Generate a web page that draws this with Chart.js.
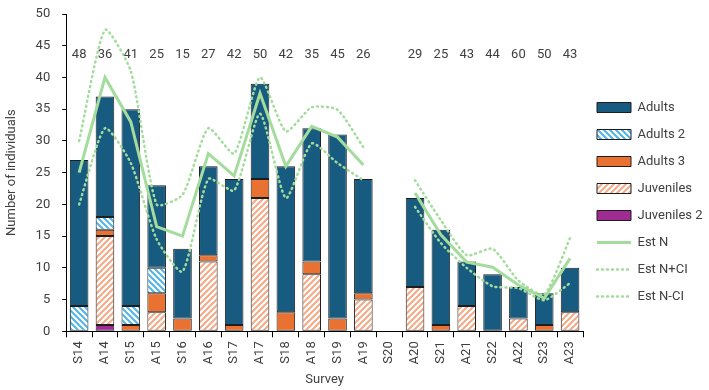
<!DOCTYPE html>
<html>
<head>
<meta charset="utf-8">
<script src="https://cdn.jsdelivr.net/npm/chart.js@4.4.1/dist/chart.umd.min.js"></script>
<style>
  html, body { margin: 0; padding: 0; background: #fff; }
  #wrap { width: 709px; height: 390px; }
</style>
</head>
<body>
<div id="wrap"><canvas id="surveyChart"></canvas></div>
<script>
// survey codes (S = spring, A = autumn)
var surveys = ['S14', 'A14', 'S15', 'A15', 'S16', 'A16', 'S17', 'A17', 'S18', 'A18',
               'S19', 'A19', 'S20', 'A20', 'S21', 'A21', 'S22', 'A22', 'S23', 'A23'];

// counts per group (stacked bars)
var adults     = [23, 19, 31, 13, 11, 14, 23, 15, 23, 21, 29, 18, null, 14, 15, 7, 9, 5, 5, 7];
var adults2    = [4, 2, 3, 4, null, null, null, null, null, null, null, null, null, null, null, null, null, null, null, null];
var adults3    = [null, 1, 1, 3, 2, 1, 1, 3, 3, 2, 2, 1, null, null, 1, null, null, null, 1, null];
var juveniles  = [null, 14, null, 3, null, 11, null, 21, null, 9, null, 5, null, 7, null, 4, null, 2, null, 3];
var juveniles2 = [null, 1, null, null, null, null, null, null, null, null, null, null, null, null, null, null, null, null, null, null];

// population estimate and its confidence limits
var estN      = [25, 40, 33, 16.5, 15, 28, 24.5, 37.5, 26, 32.3, 30.6, 26.2, null, 21.8, 15.2, 10.9, 10.1, 7.3, 5.2, 11.5];
var estNUpper = [30, 47.5, 41, 20, 21.5, 32, 28, 40, 31.5, 35.3, 34.9, 29, null, 23.8, 17.5, 12, 13, 8, 5.8, 14.7];
var estNLower = [20, 32, 26.5, 14.5, 9.4, 24, 22.2, 34.3, 21, 29.6, 26.5, 23.8, null, 19.6, 13.9, 10, 7.1, 6.8, 4.9, 7.6];

// numbers printed along the top of the plot
var sampleSizes = ['48', '36', '41', '25', '15', '27', '42', '50', '42', '35',
                   '45', '26', null, '29', '25', '43', '44', '60', '50', '43'];
var labelLevel = 43.5;

var canvas = document.getElementById('surveyChart');
var ctx = canvas.getContext('2d');

// diagonal hatch fills like the Excel pattern fills
function hatch(color, slash) {
  var s = 6;
  var tile = document.createElement('canvas');
  tile.width = s; tile.height = s;
  var g = tile.getContext('2d');
  g.fillStyle = '#ffffff';
  g.fillRect(0, 0, s, s);
  g.strokeStyle = color;
  g.lineWidth = 2;
  g.beginPath();
  if (slash) {
    g.moveTo(-1, s + 1); g.lineTo(s + 1, -1);
    g.moveTo(-s / 2 - 1, s / 2 + 1); g.lineTo(s / 2 + 1, -s / 2 - 1);
    g.moveTo(s / 2 - 1, s * 1.5 + 1); g.lineTo(s * 1.5 + 1, s / 2 - 1);
  } else {
    g.moveTo(-1, -1); g.lineTo(s + 1, s + 1);
    g.moveTo(-s / 2 - 1, s / 2 - 1); g.lineTo(s / 2 + 1, s * 1.5 + 1);
    g.moveTo(s / 2 - 1, -s / 2 - 1); g.lineTo(s * 1.5 + 1, s / 2 + 1);
  }
  g.stroke();
  return ctx.createPattern(tile, 'repeat');
}

var textColor = '#404040';
var fontFamily = 'Roboto, "Liberation Sans", sans-serif';
var green = '#a3dc9c';

var sampleLabels = {
  id: 'sampleLabels',
  beforeDatasetsDraw: function(chart) {
    var c = chart.ctx, xs = chart.scales.x, ys = chart.scales.y;
    c.save();
    c.font = '13px ' + fontFamily;
    c.fillStyle = textColor;
    c.textAlign = 'center';
    c.textBaseline = 'middle';
    for (var i = 0; i < sampleSizes.length; i++) {
      if (sampleSizes[i] === null) continue;
      c.fillText(sampleSizes[i], xs.getPixelForValue(i), ys.getPixelForValue(labelLevel));
    }
    c.restore();
  }
};

function barSet(label, data, fill, order) {
  return {
    type: 'bar', label: label, data: data, stack: 'counts', order: order,
    backgroundColor: fill, borderColor: '#1e1e1e', borderWidth: 1,
    borderSkipped: false, pointStyle: 'rect',
    barPercentage: 0.72, categoryPercentage: 1
  };
}

function lineSet(label, data, width, dash, tension) {
  return {
    type: 'line', label: label, data: data, stack: label, order: 0,
    borderColor: green, backgroundColor: green, borderWidth: width,
    borderDash: dash, borderCapStyle: dash.length ? 'round' : 'butt',
    pointRadius: 0, pointStyle: 'line', tension: tension, spanGaps: false, fill: false
  };
}

var baseLabels = Chart.defaults.plugins.legend.labels.generateLabels;

new Chart(ctx, {
  data: {
    labels: surveys,
    datasets: [
      barSet('Adults', adults, '#185b80', 5),
      barSet('Adults 2', adults2, hatch('#52b4e6', false), 4),
      barSet('Adults 3', adults3, '#e97132', 3),
      barSet('Juveniles', juveniles, hatch('#f3aa86', true), 2),
      barSet('Juveniles 2', juveniles2, '#a02b93', 1),
      lineSet('Est N', estN, 3, [], 0),
      lineSet('Est N+CI', estNUpper, 2.5, [1, 4], 0.2),
      lineSet('Est N-CI', estNLower, 2.5, [1, 4], 0.2)
    ]
  },
  options: {
    responsive: true,
    maintainAspectRatio: false,
    animation: false,
    devicePixelRatio: 1,
    layout: { padding: { top: 14, right: 0, bottom: 0, left: 0 } },
    plugins: {
      tooltip: { enabled: false },
      legend: {
        position: 'right',
        maxWidth: 126,
        labels: {
          usePointStyle: true,
          pointStyleWidth: 34,
          boxHeight: 10,
          padding: 14,
          color: textColor,
          font: { family: fontFamily, size: 13 },
          generateLabels: function(chart) {
            var items = baseLabels(chart);
            items.forEach(function(it) {
              var ds = chart.data.datasets[it.datasetIndex];
              if (ds.type === 'line') {
                it.lineWidth = ds.borderWidth;
                it.lineDash = ds.borderDash;
                it.lineCap = ds.borderCapStyle;
                it.strokeStyle = ds.borderColor;
              }
            });
            return items.sort(function(a, b) { return a.datasetIndex - b.datasetIndex; });
          }
        }
      }
    },
    scales: {
      x: {
        stacked: true,
        grid: { display: true, offset: true, drawOnChartArea: false, drawTicks: true, tickLength: 6, color: '#000' },
        border: { color: '#000', width: 1 },
        ticks: { color: textColor, font: { family: fontFamily, size: 13 }, minRotation: 90, maxRotation: 90, padding: 4, autoSkip: false },
        title: { display: true, text: 'Survey', color: textColor, font: { family: fontFamily, size: 13 }, padding: { top: 4, bottom: 2 } }
      },
      y: {
        stacked: true,
        min: 0, max: 50,
        grid: { display: true, drawOnChartArea: false, drawTicks: true, tickLength: 4, color: '#000' },
        border: { color: '#000', width: 1 },
        ticks: { stepSize: 5, color: textColor, font: { family: fontFamily, size: 13 }, padding: 12 },
        title: { display: true, text: 'Number of individuals', color: textColor, font: { family: fontFamily, size: 13 }, padding: { top: 4, bottom: 4 } },
        // the tick padding should not push the plot top down
        afterFit: function(scale) { scale.paddingTop = 0; }
      }
    }
  },
  plugins: [sampleLabels]
});
</script>
</body>
</html>
